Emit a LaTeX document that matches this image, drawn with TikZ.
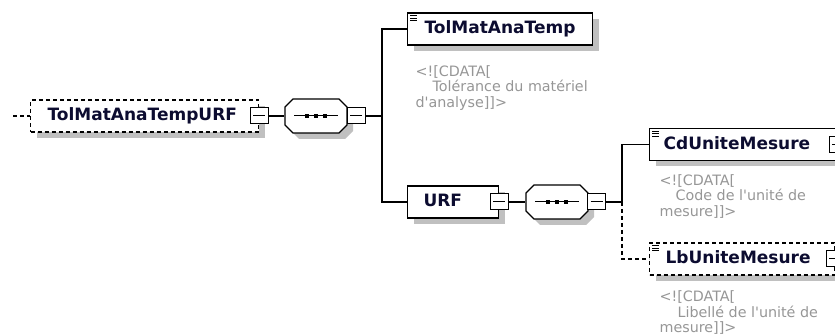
\documentclass[tikz,border=0pt]{standalone}
\usepackage{fontspec}
\usepackage{tikz}
\usetikzlibrary{shapes.misc,shadows}
\newfontfamily\diagfont{DejaVu Sans}
\definecolor{namecol}{RGB}{12,12,48}
\definecolor{notecol}{RGB}{150,150,150}
\definecolor{shadecol}{RGB}{192,192,192}

\begin{document}
\begin{tikzpicture}[x=1pt, y=-1pt, line width=1.2pt,
  elem/.style={draw, fill=white, anchor=west, align=left, minimum height=32pt, inner ysep=0pt,
    text height=13pt, text depth=3pt, text=namecol, font=\diagfont\bfseries\fontsize{17}{20}\selectfont,
    drop shadow={shadow xshift=6pt, shadow yshift=-6pt, fill=shadecol, opacity=1}},
  optelem/.style={elem, dash pattern=on 4pt off 3pt},
  pm/.style={draw, fill=white, minimum width=18pt, minimum height=16pt, inner sep=0pt, line width=1pt},
  minus/.style={pm, path picture={\draw (path picture bounding box.center) +(-6,0) -- +(6,0);}},
  plus/.style={pm, path picture={\draw (path picture bounding box.center) +(-6,0) -- +(6,0) +(0,-5) -- +(0,5);}},
  seq/.style={chamfered rectangle, chamfered rectangle xsep=4pt, chamfered rectangle ysep=4pt,
    draw, fill=white, inner xsep=27pt, inner ysep=13pt,
    drop shadow={shadow xshift=6pt, shadow yshift=-6pt, fill=shadecol, opacity=1},
    path picture={\draw[line width=1pt] (path picture bounding box.center) +(-22,0) -- +(22,0);
      \foreach \d in {-9,0,9} \fill[black] (path picture bounding box.center) +(\d-2,-2) rectangle +(\d+2,2);}},
  note/.style={anchor=north west, inner sep=0pt, align=left, text=notecol, font=\diagfont\fontsize{14.3}{15.5}\selectfont},
  dashline/.style={dash pattern=on 4pt off 3pt}]
  \useasboundingbox (0,0) rectangle (835,336);
  \clip (0,0) rectangle (835,336);

  % root element and its sequence
  \node [optelem, text width=194pt, inner xsep=17pt] (root) at (30,116) {TolMatAnaTempURF};
  \node [minus] (rootm) at (root.east) {};
  \node [seq] (seq1) at (316,116) {};
  \node [minus] (seq1m) at (356,116) {};
  \coordinate (in) at (13,116);
  \coordinate (j1) at (382,116);

  % children
  \node [elem, text width=151pt, inner xsep=17pt] (tol) at (407,29) {TolMatAnaTemp};
  \node [note] (tolnote) at (415,65) {<![CDATA[\\\hspace*{17pt}Tolérance du matériel\\d'analyse]]>};
  \node [elem, text width=59pt, inner xsep=16pt] (urf) at (407,202) {URF};
  \node [minus] (urfm) at (urf.east) {};
  \node [seq] (seq2) at (557,202) {};
  \node [minus] (seq2m) at (596.5,202) {};
  \coordinate (j2) at (622,202);

  % URF children
  \node [elem, text width=160pt, inner xsep=14pt] (cd) at (649,144.5) {CdUniteMesure};
  \node [plus] (cdp) at (cd.east) {};
  \node [note] (cdnote) at (659,174) {<![CDATA[\\\hspace*{16pt}Code de l'unité de\\mesure]]>};
  \node [optelem, text width=153pt, inner xsep=16pt] (lb) at (649,259) {LbUniteMesure};
  \node [plus] (lbp) at (lb.east) {};
  \node [note] (lbnote) at (659,290.5) {<![CDATA[\\\hspace*{18pt}Libellé de l'unité de\\mesure]]>};

  % element icons
  \foreach \e in {tol,cd,lb}
    \foreach \k in {3.5,6,8.5}
      \draw [line width=0.9pt] ([shift={(3,\k)}]\e.north west) -- ++(7,0);

  % connectors
  \draw [dashline] (in) -- (root.west);
  \draw (rootm.east) -- (seq1.west);
  \draw (seq1m.east) -- (j1);
  \draw (tol.west) -| (j1) |- (urf.west);
  \draw (urfm.east) -- (seq2.west);
  \draw (seq2m.east) -- (j2);
  \draw (cd.west) -| (j2);
  \draw [dashline] (j2) |- (lb.west);
\end{tikzpicture}
\end{document}
